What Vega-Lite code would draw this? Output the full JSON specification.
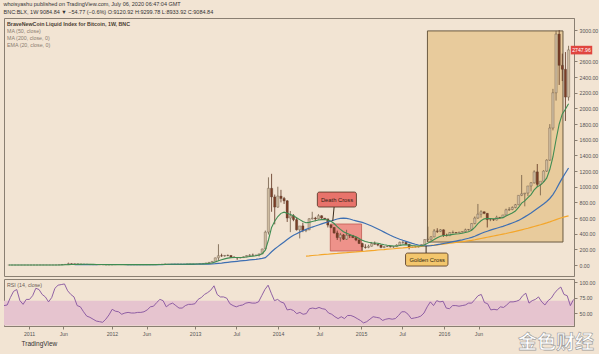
{
 "$schema": "https://vega.github.io/schema/vega-lite/v6.json",
 "background": "#f2e4d3",
 "padding": {"left": 3, "top": 1, "right": 0, "bottom": 0},
 "title": {
  "text": "whoisyashu published on TradingView.com, July 06, 2020 06:47:04 GMT",
  "subtitle": "BNC:BLX, 1W  9084.84 ▼ −54.77 (−0.6%)  O:9120.92  H:9299.78  L:8933.92  C:9084.84",
  "anchor": "start", "frame": "bounds", "font": "Liberation Sans", "subtitleFont": "Liberation Sans",
  "fontSize": 5.5, "subtitleFontSize": 5.5, "fontWeight": "normal", "color": "#333333", "subtitleColor": "#333333",
  "subtitlePadding": 3, "offset": 2
 },
 "spacing": 1,
 "config": {
  "view": {"stroke": "#8a7f72", "strokeWidth": 1},
  "axis": {"labelFont": "Liberation Sans", "labelFontSize": 5.2, "labelColor": "#555555", "domainColor": "#8a7f72", "tickColor": "#8a7f72", "tickSize": 3, "grid": false, "labelPadding": 2},
  "text": {"font": "Liberation Sans"}
 },
 "datasets": {
  "w": [
   {"d":"2010-09-13","o":0.06,"h":0.07,"l":0.06,"c":0.06,"e":0.06,"r":62},
   {"d":"2010-09-27","o":0.06,"h":0.07,"l":0.06,"c":0.06,"e":0.06,"r":63},
   {"d":"2010-10-11","o":0.06,"h":0.11,"l":0.06,"c":0.1,"e":0.07,"r":75},
   {"d":"2010-10-25","o":0.1,"h":0.2,"l":0.1,"c":0.19,"e":0.09,"r":85},
   {"d":"2010-11-08","o":0.19,"h":0.39,"l":0.19,"c":0.28,"e":0.12,"r":88},
   {"d":"2010-11-22","o":0.28,"h":0.3,"l":0.2,"c":0.23,"e":0.14,"r":70},
   {"d":"2010-12-06","o":0.23,"h":0.25,"l":0.19,"c":0.2,"e":0.16,"r":64},
   {"d":"2010-12-20","o":0.2,"h":0.3,"l":0.2,"c":0.3,"e":0.19,"r":72},
   {"d":"2011-01-03","o":0.3,"h":0.34,"l":0.28,"c":0.32,"e":0.21,"r":72},
   {"d":"2011-01-17","o":0.32,"h":0.45,"l":0.32,"c":0.42,"e":0.25,"r":78},
   {"d":"2011-01-31","o":0.42,"h":0.95,"l":0.42,"c":0.9,"e":0.35,"r":90},
   {"d":"2011-02-14","o":0.9,"h":1.1,"l":0.85,"c":0.95,"e":0.44,"r":88},
   {"d":"2011-02-28","o":0.95,"h":0.95,"l":0.86,"c":0.88,"e":0.52,"r":80},
   {"d":"2011-03-14","o":0.88,"h":0.92,"l":0.8,"c":0.86,"e":0.58,"r":76},
   {"d":"2011-03-28","o":0.86,"h":0.86,"l":0.7,"c":0.75,"e":0.62,"r":68},
   {"d":"2011-04-11","o":0.75,"h":1.2,"l":0.7,"c":1.1,"e":0.7,"r":75},
   {"d":"2011-04-25","o":1.1,"h":3.4,"l":1.1,"c":3,"e":1,"r":90},
   {"d":"2011-05-09","o":3,"h":8,"l":3,"c":6.9,"e":1.9,"r":95},
   {"d":"2011-05-23","o":6.9,"h":9.5,"l":6,"c":8.7,"e":3,"r":96},
   {"d":"2011-06-06","o":8.7,"h":31,"l":8.7,"c":18,"e":5,"r":97},
   {"d":"2011-06-20","o":18,"h":20,"l":10,"c":16,"e":6.5,"r":86},
   {"d":"2011-07-04","o":16,"h":16.5,"l":13,"c":14.5,"e":7.6,"m":3.5,"r":80},
   {"d":"2011-07-18","o":14.5,"h":14.8,"l":12.8,"c":13.5,"e":8.5,"m":4.2,"r":76},
   {"d":"2011-08-01","o":13.5,"h":14,"l":7.8,"c":10.5,"e":9,"m":4.9,"r":62},
   {"d":"2011-08-15","o":10.5,"h":12,"l":9.8,"c":11,"e":9.4,"m":5.5,"r":60},
   {"d":"2011-08-29","o":11,"h":11,"l":7.5,"c":8.2,"e":9.3,"m":5.9,"r":52},
   {"d":"2011-09-12","o":8.2,"h":8.3,"l":4.8,"c":5.5,"e":8.7,"m":6.2,"r":45},
   {"d":"2011-09-26","o":5.5,"h":5.6,"l":4.6,"c":5,"e":8.2,"m":6.4,"r":43},
   {"d":"2011-10-10","o":5,"h":5.2,"l":3.8,"c":4,"e":7.5,"m":6.5,"r":40},
   {"d":"2011-10-24","o":4,"h":4.1,"l":2.2,"c":3.2,"e":6.8,"m":6.6,"r":37},
   {"d":"2011-11-07","o":3.2,"h":3.4,"l":2.5,"c":3,"e":6.1,"m":6.6,"r":36},
   {"d":"2011-11-21","o":3,"h":3.2,"l":2,"c":2.5,"e":5.4,"m":6.6,"r":35},
   {"d":"2011-12-05","o":2.5,"h":3.2,"l":2.4,"c":3,"e":5,"m":6.6,"r":40},
   {"d":"2011-12-19","o":3,"h":4.4,"l":3,"c":4,"e":4.8,"m":6.6,"r":47},
   {"d":"2012-01-02","o":4,"h":7.2,"l":4,"c":6.8,"e":5,"m":6.6,"r":56},
   {"d":"2012-01-16","o":6.8,"h":7,"l":5.8,"c":6.3,"e":5.2,"m":6.6,"r":53},
   {"d":"2012-01-30","o":6.3,"h":6.4,"l":5.6,"c":6,"e":5.4,"m":6.7,"r":52},
   {"d":"2012-02-13","o":6,"h":6,"l":4,"c":4.5,"e":5.3,"m":6.6,"r":48},
   {"d":"2012-02-27","o":4.5,"h":5,"l":4.4,"c":4.9,"e":5.2,"m":6.5,"r":50},
   {"d":"2012-03-12","o":4.9,"h":5.4,"l":4.8,"c":5.3,"e":5.2,"m":6.3,"r":51},
   {"d":"2012-03-26","o":5.3,"h":5.3,"l":4.8,"c":4.9,"e":5.1,"m":6,"r":50},
   {"d":"2012-04-09","o":4.9,"h":5,"l":4.8,"c":4.9,"e":5.1,"m":5.6,"r":50},
   {"d":"2012-04-23","o":4.9,"h":5.2,"l":4.9,"c":5.1,"e":5.1,"m":5.3,"r":51},
   {"d":"2012-05-07","o":5.1,"h":5.1,"l":4.9,"c":5,"e":5.1,"m":5.1,"r":51},
   {"d":"2012-05-21","o":5,"h":5.2,"l":5,"c":5.1,"e":5.1,"m":5,"r":52},
   {"d":"2012-06-04","o":5.1,"h":5.8,"l":5.1,"c":5.6,"e":5.2,"m":5.2,"r":55},
   {"d":"2012-06-18","o":5.6,"h":6.7,"l":5.6,"c":6.6,"e":5.5,"m":5.5,"r":60},
   {"d":"2012-07-02","o":6.6,"h":6.8,"l":6.5,"c":6.7,"e":5.8,"m":5.8,"r":61},
   {"d":"2012-07-16","o":6.7,"h":9,"l":6.7,"c":8.9,"e":6.6,"m":6.2,"r":67},
   {"d":"2012-07-30","o":8.9,"h":11,"l":8.9,"c":10.9,"e":7.6,"m":6.5,"r":72},
   {"d":"2012-08-13","o":10.9,"h":15.4,"l":7.5,"c":11.7,"e":8.7,"m":6.8,"r":70},
   {"d":"2012-08-27","o":11.7,"h":11.8,"l":9.8,"c":10.2,"e":9.2,"m":7.1,"r":60},
   {"d":"2012-09-10","o":10.2,"h":11.6,"l":10.2,"c":11.5,"e":9.8,"m":7.5,"r":64},
   {"d":"2012-09-24","o":11.5,"h":12.8,"l":11.5,"c":12.4,"e":10.5,"m":7.9,"r":66},
   {"d":"2012-10-08","o":12.4,"h":12.5,"l":11.6,"c":11.8,"e":10.8,"m":8.2,"r":62},
   {"d":"2012-10-22","o":11.8,"h":11.9,"l":10.5,"c":10.8,"e":10.9,"m":8.5,"r":58},
   {"d":"2012-11-05","o":10.8,"h":11,"l":10.6,"c":10.9,"e":10.9,"m":8.8,"r":58},
   {"d":"2012-11-19","o":10.9,"h":12.5,"l":10.9,"c":12.4,"e":11.3,"m":9.1,"r":62},
   {"d":"2012-12-03","o":12.4,"h":13.5,"l":12.4,"c":13.3,"e":11.8,"m":9.4,"r":64},
   {"d":"2012-12-17","o":13.3,"h":13.5,"l":13.1,"c":13.4,"e":12.2,"m":9.7,"r":64},
   {"d":"2012-12-31","o":13.4,"h":13.7,"l":13.2,"c":13.5,"e":12.6,"m":10,"r":65},
   {"d":"2013-01-14","o":13.5,"h":17.8,"l":13.5,"c":17.5,"e":13.6,"m":10.4,"r":72},
   {"d":"2013-01-28","o":17.5,"h":21,"l":17.5,"c":20.6,"e":15.2,"m":11,"r":75},
   {"d":"2013-02-11","o":20.6,"h":27,"l":20.6,"c":26.8,"e":17.8,"m":11.8,"r":80},
   {"d":"2013-02-25","o":26.8,"h":35,"l":26,"c":34.5,"e":21.5,"m":12.8,"r":83},
   {"d":"2013-03-11","o":34.5,"h":47.5,"l":34,"c":46.9,"e":27,"m":14.3,"r":87},
   {"d":"2013-03-25","o":46.9,"h":95,"l":46,"c":92,"e":39,"m":17,"r":94},
   {"d":"2013-04-08","o":92,"h":266,"l":55,"c":119,"e":55,"m":21,"r":80},
   {"d":"2013-04-22","o":119,"h":145,"l":105,"c":115,"e":68,"m":25,"r":76},
   {"d":"2013-05-06","o":115,"h":128,"l":106,"c":123,"e":79,"m":30,"r":76},
   {"d":"2013-05-20","o":123,"h":134,"l":113,"c":122,"e":88,"m":35,"r":74},
   {"d":"2013-06-03","o":122,"h":125,"l":94,"c":100,"e":95,"m":40,"r":65},
   {"d":"2013-06-17","o":100,"h":113,"l":90,"c":95,"e":97,"m":44,"r":62},
   {"d":"2013-07-01","o":95,"h":98,"l":66,"c":91,"e":97,"m":48,"r":60},
   {"d":"2013-07-15","o":91,"h":100,"l":85,"c":95,"e":97,"m":52,"r":62},
   {"d":"2013-07-29","o":95,"h":110,"l":92,"c":106,"e":99,"m":56,"r":63},
   {"d":"2013-08-12","o":106,"h":125,"l":100,"c":122,"e":103,"m":60,"r":66},
   {"d":"2013-08-26","o":122,"h":140,"l":118,"c":127,"e":109,"m":65,"r":67},
   {"d":"2013-09-09","o":127,"h":146,"l":120,"c":125,"e":114,"m":69,"r":66},
   {"d":"2013-09-23","o":125,"h":131,"l":118,"c":126,"e":118,"m":73,"r":66},
   {"d":"2013-10-07","o":126,"h":146,"l":110,"c":142,"e":128,"m":78,"r":68},
   {"d":"2013-10-21","o":142,"h":210,"l":140,"c":205,"e":145,"m":85,"r":78},
   {"d":"2013-11-04","o":205,"h":440,"l":200,"c":420,"e":190,"m":95,"r":88},
   {"d":"2013-11-18","o":420,"h":1120,"l":390,"c":980,"e":320,"m":130,"r":95},
   {"d":"2013-12-02","o":980,"h":1165,"l":680,"c":870,"e":480,"m":170,"r":82},
   {"d":"2013-12-16","o":870,"h":900,"l":520,"c":740,"e":560,"m":205,"r":70},
   {"d":"2013-12-30","o":740,"h":1000,"l":730,"c":880,"e":620,"m":235,"r":72},
   {"d":"2014-01-13","o":880,"h":960,"l":800,"c":850,"e":660,"m":265,"r":68},
   {"d":"2014-01-27","o":850,"h":870,"l":780,"c":820,"e":675,"m":295,"r":66},
   {"d":"2014-02-10","o":820,"h":830,"l":550,"c":600,"e":660,"m":325,"r":55},
   {"d":"2014-02-24","o":600,"h":690,"l":420,"c":630,"e":645,"m":355,"r":56},
   {"d":"2014-03-10","o":630,"h":650,"l":560,"c":580,"e":630,"m":380,"r":54},
   {"d":"2014-03-24","o":580,"h":600,"l":440,"c":450,"e":605,"m":400,"r":49},
   {"d":"2014-04-07","o":450,"h":490,"l":340,"c":500,"e":580,"m":420,"r":51},
   {"d":"2014-04-21","o":500,"h":540,"l":420,"c":440,"e":555,"m":438,"r":48},
   {"d":"2014-05-05","o":440,"h":460,"l":420,"c":450,"e":540,"m":455,"s":115,"r":49},
   {"d":"2014-05-19","o":450,"h":600,"l":445,"c":590,"e":545,"m":470,"s":118,"r":57},
   {"d":"2014-06-02","o":590,"h":680,"l":580,"c":600,"e":555,"m":485,"s":122,"r":58},
   {"d":"2014-06-16","o":600,"h":615,"l":560,"c":590,"e":565,"m":498,"s":125,"r":57},
   {"d":"2014-06-30","o":590,"h":650,"l":580,"c":630,"e":575,"m":512,"s":128,"r":59},
   {"d":"2014-07-14","o":630,"h":635,"l":590,"c":600,"e":580,"m":525,"s":132,"r":57},
   {"d":"2014-07-28","o":600,"h":600,"l":575,"c":590,"e":582,"m":538,"s":135,"r":56},
   {"d":"2014-08-11","o":590,"h":590,"l":480,"c":510,"e":575,"m":550,"s":138,"r":50},
   {"d":"2014-08-25","o":510,"h":520,"l":470,"c":480,"e":560,"m":562,"s":142,"r":48},
   {"d":"2014-09-08","o":480,"h":485,"l":400,"c":410,"e":530,"m":575,"s":145,"r":44},
   {"d":"2014-09-22","o":410,"h":440,"l":320,"c":350,"e":490,"m":588,"s":148,"r":41},
   {"d":"2014-10-06","o":350,"h":410,"l":300,"c":385,"e":455,"m":597,"s":152,"r":44},
   {"d":"2014-10-20","o":385,"h":395,"l":320,"c":330,"e":425,"m":600,"s":155,"r":41},
   {"d":"2014-11-03","o":330,"h":450,"l":320,"c":380,"e":405,"m":597,"s":158,"r":46},
   {"d":"2014-11-17","o":380,"h":390,"l":345,"c":375,"e":390,"m":588,"s":162,"r":46},
   {"d":"2014-12-01","o":375,"h":385,"l":345,"c":350,"e":375,"m":575,"s":165,"r":44},
   {"d":"2014-12-15","o":350,"h":355,"l":305,"c":320,"e":360,"m":565,"s":168,"r":41},
   {"d":"2014-12-29","o":320,"h":330,"l":270,"c":275,"e":340,"m":555,"s":172,"r":38},
   {"d":"2015-01-12","o":275,"h":285,"l":170,"c":230,"e":315,"m":545,"s":175,"r":34},
   {"d":"2015-01-26","o":230,"h":265,"l":210,"c":225,"e":300,"m":530,"s":178,"r":36},
   {"d":"2015-02-09","o":225,"h":260,"l":215,"c":240,"e":290,"m":515,"s":182,"r":40},
   {"d":"2015-02-23","o":240,"h":295,"l":235,"c":275,"e":285,"m":498,"s":185,"r":44},
   {"d":"2015-03-09","o":275,"h":300,"l":260,"c":265,"e":282,"m":480,"s":188,"r":43},
   {"d":"2015-03-23","o":265,"h":270,"l":240,"c":255,"e":278,"m":460,"s":192,"r":42},
   {"d":"2015-04-06","o":255,"h":260,"l":215,"c":225,"e":268,"m":440,"s":195,"r":38},
   {"d":"2015-04-20","o":225,"h":240,"l":215,"c":235,"e":260,"m":420,"s":198,"r":40},
   {"d":"2015-05-04","o":235,"h":245,"l":230,"c":237,"e":253,"m":400,"s":202,"r":41},
   {"d":"2015-05-18","o":237,"h":242,"l":225,"c":230,"e":248,"m":380,"s":205,"r":40},
   {"d":"2015-06-01","o":230,"h":240,"l":220,"c":235,"e":244,"m":362,"s":208,"r":41},
   {"d":"2015-06-15","o":235,"h":265,"l":232,"c":255,"e":244,"m":345,"s":212,"r":46},
   {"d":"2015-06-29","o":255,"h":300,"l":250,"c":290,"e":250,"m":330,"s":215,"r":52},
   {"d":"2015-07-13","o":290,"h":315,"l":270,"c":290,"e":258,"m":316,"s":218,"r":52},
   {"d":"2015-07-27","o":290,"h":298,"l":255,"c":265,"e":260,"m":303,"s":222,"r":48},
   {"d":"2015-08-10","o":265,"h":270,"l":200,"c":225,"e":255,"m":290,"s":225,"r":41},
   {"d":"2015-08-24","o":225,"h":235,"l":220,"c":230,"e":250,"m":277,"s":228,"r":42},
   {"d":"2015-09-07","o":230,"h":245,"l":225,"c":230,"e":246,"m":266,"s":232,"r":43},
   {"d":"2015-09-21","o":230,"h":240,"l":225,"c":238,"e":244,"m":256,"s":235,"r":45},
   {"d":"2015-10-05","o":238,"h":265,"l":236,"c":262,"e":246,"m":248,"s":238,"r":50},
   {"d":"2015-10-19","o":262,"h":330,"l":260,"c":325,"e":258,"m":244,"s":242,"r":60},
   {"d":"2015-11-02","o":325,"h":490,"l":310,"c":330,"e":280,"m":245,"s":246,"r":68},
   {"d":"2015-11-16","o":330,"h":370,"l":310,"c":360,"e":300,"m":248,"s":250,"r":62},
   {"d":"2015-11-30","o":360,"h":460,"l":355,"c":435,"e":325,"m":253,"s":254,"r":70},
   {"d":"2015-12-14","o":435,"h":470,"l":410,"c":430,"e":348,"m":260,"s":258,"r":68},
   {"d":"2015-12-28","o":430,"h":460,"l":420,"c":450,"e":368,"m":267,"s":263,"r":69},
   {"d":"2016-01-11","o":450,"h":455,"l":360,"c":380,"e":378,"m":275,"s":268,"r":58},
   {"d":"2016-01-25","o":380,"h":400,"l":365,"c":375,"e":380,"m":282,"s":273,"r":57},
   {"d":"2016-02-08","o":375,"h":420,"l":370,"c":415,"e":385,"m":290,"s":278,"r":62},
   {"d":"2016-02-22","o":415,"h":440,"l":405,"c":415,"e":392,"m":298,"s":283,"r":62},
   {"d":"2016-03-07","o":415,"h":420,"l":405,"c":410,"e":396,"m":306,"s":288,"r":61},
   {"d":"2016-03-21","o":410,"h":425,"l":405,"c":420,"e":400,"m":314,"s":293,"r":62},
   {"d":"2016-04-04","o":420,"h":430,"l":415,"c":428,"e":405,"m":322,"s":298,"r":63},
   {"d":"2016-04-18","o":428,"h":465,"l":425,"c":450,"e":415,"m":332,"s":304,"r":66},
   {"d":"2016-05-02","o":450,"h":460,"l":440,"c":455,"e":425,"m":342,"s":310,"r":66},
   {"d":"2016-05-16","o":455,"h":535,"l":440,"c":530,"e":445,"m":354,"s":316,"r":72},
   {"d":"2016-05-30","o":530,"h":620,"l":520,"c":600,"e":480,"m":368,"s":323,"r":78},
   {"d":"2016-06-13","o":600,"h":780,"l":590,"c":650,"e":530,"m":385,"s":331,"r":80},
   {"d":"2016-06-27","o":650,"h":700,"l":605,"c":680,"e":565,"m":402,"s":339,"r":67},
   {"d":"2016-07-11","o":680,"h":685,"l":650,"c":660,"e":590,"m":418,"s":347,"r":65},
   {"d":"2016-07-25","o":660,"h":665,"l":480,"c":580,"e":595,"m":432,"s":355,"r":55},
   {"d":"2016-08-08","o":580,"h":600,"l":560,"c":580,"e":595,"m":445,"s":363,"r":56},
   {"d":"2016-08-22","o":580,"h":590,"l":565,"c":575,"e":592,"m":458,"s":371,"r":55},
   {"d":"2016-09-05","o":575,"h":630,"l":570,"c":610,"e":595,"m":470,"s":379,"r":60},
   {"d":"2016-09-19","o":610,"h":612,"l":595,"c":605,"e":598,"m":482,"s":387,"r":59},
   {"d":"2016-10-03","o":605,"h":640,"l":600,"c":640,"e":605,"m":494,"s":395,"r":63},
   {"d":"2016-10-17","o":640,"h":720,"l":630,"c":705,"e":625,"m":508,"s":403,"r":68},
   {"d":"2016-10-31","o":705,"h":740,"l":690,"c":710,"e":645,"m":522,"s":412,"r":68},
   {"d":"2016-11-14","o":710,"h":750,"l":700,"c":735,"e":665,"m":537,"s":421,"r":69},
   {"d":"2016-11-28","o":735,"h":780,"l":725,"c":770,"e":690,"m":552,"s":430,"r":71},
   {"d":"2016-12-12","o":770,"h":890,"l":765,"c":890,"e":735,"m":570,"s":440,"r":78},
   {"d":"2016-12-26","o":890,"h":1150,"l":880,"c":910,"e":790,"m":592,"s":450,"r":82},
   {"d":"2017-01-09","o":910,"h":920,"l":750,"c":920,"e":820,"m":615,"s":460,"r":66},
   {"d":"2017-01-23","o":920,"h":1010,"l":880,"c":1010,"e":860,"m":640,"s":470,"r":70},
   {"d":"2017-02-06","o":1010,"h":1060,"l":940,"c":1050,"e":900,"m":665,"s":481,"r":72},
   {"d":"2017-02-20","o":1050,"h":1210,"l":1040,"c":1190,"e":960,"m":693,"s":492,"r":76},
   {"d":"2017-03-06","o":1190,"h":1290,"l":1000,"c":1030,"e":1000,"m":722,"s":503,"r":68},
   {"d":"2017-03-20","o":1030,"h":1060,"l":890,"c":1070,"e":1020,"m":750,"s":514,"r":63},
   {"d":"2017-04-03","o":1070,"h":1210,"l":1060,"c":1200,"e":1060,"m":780,"s":526,"r":70},
   {"d":"2017-04-17","o":1200,"h":1350,"l":1190,"c":1340,"e":1110,"m":812,"s":538,"r":74},
   {"d":"2017-05-01","o":1340,"h":1800,"l":1330,"c":1750,"e":1220,"m":850,"s":551,"r":82},
   {"d":"2017-05-15","o":1750,"h":2250,"l":1720,"c":2200,"e":1380,"m":900,"s":565,"r":88},
   {"d":"2017-05-29","o":2200,"h":2990,"l":2100,"c":2950,"e":1600,"m":965,"s":580,"r":92},
   {"d":"2017-06-12","o":2950,"h":3000,"l":2300,"c":2550,"e":1800,"m":1040,"s":595,"r":80},
   {"d":"2017-06-26","o":2550,"h":2700,"l":2350,"c":2500,"e":1930,"m":1110,"s":607,"r":78},
   {"d":"2017-07-10","o":2500,"h":2720,"l":1840,"c":2145,"e":1990,"m":1175,"s":618,"r":62},
   {"d":"2017-07-24","o":2145,"h":2800,"l":2100,"c":2748,"e":2060,"m":1240,"s":628,"r":72}
  ]
 },
 "vconcat": [
  {
   "width": 570, "height": 258,
   "title": {"text": "BraveNewCoin Liquid Index for Bitcoin, 1W, BNC", "subtitle": ["MA (50, close)", "MA (200, close, 0)", "EMA (20, close, 0)"], "anchor": "start", "dx": 3, "offset": -30, "font": "Liberation Sans", "subtitleFont": "Liberation Sans", "fontSize": 5.3, "fontWeight": "bold", "color": "#4a3c32", "subtitleFontSize": 5.3, "subtitleColor": "#8a7c70", "subtitleLineHeight": 7, "subtitlePadding": 1.5},
   "layer": [
    {
     "data": {"values": [{"x0": "2015-10-31", "x1": "2017-06-29", "y0": 294, "y1": 2990}]},
     "mark": {"type": "rect", "fill": "#e8cb9c", "stroke": "#6b5a40", "strokeWidth": 1},
     "encoding": {
      "x": {"field": "x0", "type": "temporal", "scale": {"type": "utc", "domain": [{"year": 2010, "month": 9, "date": 13, "utc": true}, {"year": 2017, "month": 7, "date": 26, "utc": true}]}, "axis": null},
      "x2": {"field": "x1"},
      "y": {"field": "y0", "type": "quantitative", "scale": {"domain": [-140, 3155], "nice": false, "zero": false}, "axis": {"orient": "right", "title": null, "values": [0,200,400,600,800,1000,1200,1400,1600,1800,2000,2200,2400,2600,3000], "format": ".2f"}},
      "y2": {"field": "y1"}
     }
    },
    {
     "data": {"values": [{"x0": "2014-08-22", "x1": "2015-01-09", "y0": 179, "y1": 524}]},
     "mark": {"type": "rect", "fill": "#ee928a", "stroke": "#c25a52", "strokeWidth": 0.8},
     "encoding": {
      "x": {"field": "x0", "type": "temporal", "scale": {"type": "utc", "domain": [{"year": 2010, "month": 9, "date": 13, "utc": true}, {"year": 2017, "month": 7, "date": 26, "utc": true}]}, "axis": null},
      "x2": {"field": "x1"},
      "y": {"field": "y0", "type": "quantitative", "scale": {"domain": [-140, 3155], "nice": false, "zero": false}, "axis": {"orient": "right", "title": null, "values": [0,200,400,600,800,1000,1200,1400,1600,1800,2000,2200,2400,2600,3000], "format": ".2f"}},
      "y2": {"field": "y1"}
     }
    },
    {
     "data": {"name": "w"},
     "mark": {"type": "rule", "clip": true, "strokeWidth": 0.8},
     "encoding": {
      "x": {"field": "d", "type": "temporal", "scale": {"type": "utc", "domain": [{"year": 2010, "month": 9, "date": 13, "utc": true}, {"year": 2017, "month": 7, "date": 26, "utc": true}]}, "axis": null},
      "y": {"field": "l", "type": "quantitative", "scale": {"domain": [-140, 3155], "nice": false, "zero": false}, "axis": {"orient": "right", "title": null, "values": [0,200,400,600,800,1000,1200,1400,1600,1800,2000,2200,2400,2600,3000], "format": ".2f"}},
      "y2": {"field": "h"},
      "color": {"condition": {"test": "datum.c >= datum.o", "value": "#6f5a44"}, "value": "#5a2e1c"}
     }
    },
    {
     "data": {"name": "w"},
     "mark": {"type": "bar", "clip": true, "size": 2.3, "stroke": "#4e3a2c", "strokeWidth": 0.3},
     "encoding": {
      "x": {"field": "d", "type": "temporal", "scale": {"type": "utc", "domain": [{"year": 2010, "month": 9, "date": 13, "utc": true}, {"year": 2017, "month": 7, "date": 26, "utc": true}]}, "axis": null},
      "y": {"field": "o", "type": "quantitative", "scale": {"domain": [-140, 3155], "nice": false, "zero": false}, "axis": {"orient": "right", "title": null, "values": [0,200,400,600,800,1000,1200,1400,1600,1800,2000,2200,2400,2600,3000], "format": ".2f"}},
      "y2": {"field": "c"},
      "fill": {"condition": {"test": "datum.c >= datum.o", "value": "#cdbb9f"}, "value": "#7a3e26"}
     }
    },
    {
     "data": {"name": "w"},
     "mark": {"type": "line", "clip": true, "color": "#f4a62a", "strokeWidth": 1.2},
     "encoding": {
      "x": {"field": "d", "type": "temporal", "scale": {"type": "utc", "domain": [{"year": 2010, "month": 9, "date": 13, "utc": true}, {"year": 2017, "month": 7, "date": 26, "utc": true}]}, "axis": null},
      "y": {"field": "s", "type": "quantitative", "scale": {"domain": [-140, 3155], "nice": false, "zero": false}, "axis": {"orient": "right", "title": null, "values": [0,200,400,600,800,1000,1200,1400,1600,1800,2000,2200,2400,2600,3000], "format": ".2f"}}
     }
    },
    {
     "data": {"name": "w"},
     "mark": {"type": "line", "clip": true, "color": "#3e6fb2", "strokeWidth": 1.2},
     "encoding": {
      "x": {"field": "d", "type": "temporal", "scale": {"type": "utc", "domain": [{"year": 2010, "month": 9, "date": 13, "utc": true}, {"year": 2017, "month": 7, "date": 26, "utc": true}]}, "axis": null},
      "y": {"field": "m", "type": "quantitative", "scale": {"domain": [-140, 3155], "nice": false, "zero": false}, "axis": {"orient": "right", "title": null, "values": [0,200,400,600,800,1000,1200,1400,1600,1800,2000,2200,2400,2600,3000], "format": ".2f"}}
     }
    },
    {
     "data": {"name": "w"},
     "mark": {"type": "line", "clip": true, "color": "#3f8c52", "strokeWidth": 1.1},
     "encoding": {
      "x": {"field": "d", "type": "temporal", "scale": {"type": "utc", "domain": [{"year": 2010, "month": 9, "date": 13, "utc": true}, {"year": 2017, "month": 7, "date": 26, "utc": true}]}, "axis": null},
      "y": {"field": "e", "type": "quantitative", "scale": {"domain": [-140, 3155], "nice": false, "zero": false}, "axis": {"orient": "right", "title": null, "values": [0,200,400,600,800,1000,1200,1400,1600,1800,2000,2200,2400,2600,3000], "format": ".2f"}}
     }
    },
    {
     "data": {"values": [{"x0": "2014-09-08", "y0": 741, "x1": "2014-09-02", "y1": 562}, {"x0": "2015-10-25", "y0": 153, "x1": "2015-10-25", "y1": 243}]},
     "mark": {"type": "rule", "color": "#3a2a1a", "strokeWidth": 1},
     "encoding": {
      "x": {"field": "x0", "type": "temporal", "scale": {"type": "utc", "domain": [{"year": 2010, "month": 9, "date": 13, "utc": true}, {"year": 2017, "month": 7, "date": 26, "utc": true}]}, "axis": null},
      "x2": {"field": "x1"},
      "y": {"field": "y0", "type": "quantitative", "scale": {"domain": [-140, 3155], "nice": false, "zero": false}, "axis": {"orient": "right", "title": null, "values": [0,200,400,600,800,1000,1200,1400,1600,1800,2000,2200,2400,2600,3000], "format": ".2f"}},
      "y2": {"field": "y1"}
     }
    },
    {
     "data": {"values": [
      {"x0": "2014-06-25", "x1": "2014-12-17", "y0": 741, "y1": 932, "f": "Death"},
      {"x0": "2015-07-25", "x1": "2016-01-31", "y0": -13, "y1": 153, "f": "Golden"}
     ]},
     "mark": {"type": "rect", "cornerRadius": 2, "strokeWidth": 0.8, "stroke": "#4a3020"},
     "encoding": {
      "x": {"field": "x0", "type": "temporal", "scale": {"type": "utc", "domain": [{"year": 2010, "month": 9, "date": 13, "utc": true}, {"year": 2017, "month": 7, "date": 26, "utc": true}]}, "axis": null},
      "x2": {"field": "x1"},
      "y": {"field": "y0", "type": "quantitative", "scale": {"domain": [-140, 3155], "nice": false, "zero": false}, "axis": {"orient": "right", "title": null, "values": [0,200,400,600,800,1000,1200,1400,1600,1800,2000,2200,2400,2600,3000], "format": ".2f"}},
      "y2": {"field": "y1"},
      "fill": {"condition": {"test": "datum.f == 'Death'", "value": "#e8736b"}, "value": "#f3c66c"}
     }
    },
    {
     "data": {"values": [
      {"x": "2014-09-21", "y": 836, "t": "Death Cross"},
      {"x": "2015-10-30", "y": 70, "t": "Golden Cross"}
     ]},
     "mark": {"type": "text", "fontSize": 5.8, "color": "#2e1e12", "baseline": "middle", "align": "center"},
     "encoding": {
      "x": {"field": "x", "type": "temporal", "scale": {"type": "utc", "domain": [{"year": 2010, "month": 9, "date": 13, "utc": true}, {"year": 2017, "month": 7, "date": 26, "utc": true}]}, "axis": null},
      "y": {"field": "y", "type": "quantitative", "scale": {"domain": [-140, 3155], "nice": false, "zero": false}, "axis": {"orient": "right", "title": null, "values": [0,200,400,600,800,1000,1200,1400,1600,1800,2000,2200,2400,2600,3000], "format": ".2f"}},
      "text": {"field": "t"}
     }
    },
    {
     "data": {"values": [{"x0": "2017-08-03", "x1": "2017-11-07", "y0": 2690, "y1": 2800}]},
     "mark": {"type": "rect", "fill": "#e0453f", "clip": false},
     "encoding": {
      "x": {"field": "x0", "type": "temporal", "scale": {"type": "utc", "domain": [{"year": 2010, "month": 9, "date": 13, "utc": true}, {"year": 2017, "month": 7, "date": 26, "utc": true}]}, "axis": null},
      "x2": {"field": "x1"},
      "y": {"field": "y0", "type": "quantitative", "scale": {"domain": [-140, 3155], "nice": false, "zero": false}, "axis": {"orient": "right", "title": null, "values": [0,200,400,600,800,1000,1200,1400,1600,1800,2000,2200,2400,2600,3000], "format": ".2f"}},
      "y2": {"field": "y1"}
     }
    },
    {
     "data": {"values": [{"x": "2017-09-20", "y": 2745, "t": "2747.96"}]},
     "mark": {"type": "text", "fontSize": 5.2, "color": "#ffffff", "baseline": "middle", "align": "center", "clip": false},
     "encoding": {
      "x": {"field": "x", "type": "temporal", "scale": {"type": "utc", "domain": [{"year": 2010, "month": 9, "date": 13, "utc": true}, {"year": 2017, "month": 7, "date": 26, "utc": true}]}, "axis": null},
      "y": {"field": "y", "type": "quantitative", "scale": {"domain": [-140, 3155], "nice": false, "zero": false}, "axis": {"orient": "right", "title": null, "values": [0,200,400,600,800,1000,1200,1400,1600,1800,2000,2200,2400,2600,3000], "format": ".2f"}},
      "text": {"field": "t"}
     }
    }
   ]
  },
  {
   "width": 570, "height": 47,
   "title": {"text": "RSI (14, close)", "anchor": "start", "dx": 3, "offset": -9, "font": "Liberation Sans", "fontSize": 5.3, "fontWeight": "normal", "color": "#6a5c55"},
   "layer": [
    {
     "data": {"values": [{"x0": "2010-09-01", "x1": "2017-08-10", "a": 30, "b": 70}]},
     "mark": {"type": "rect", "fill": "#e6c4cf", "clip": true},
     "encoding": {
      "x": {"field": "x0", "type": "temporal", "scale": {"type": "utc", "domain": [{"year": 2010, "month": 9, "date": 13, "utc": true}, {"year": 2017, "month": 7, "date": 26, "utc": true}]},
       "axis": {"title": "TradingView", "titleAnchor": "start", "titleAlign": "left", "titleX": 17, "titleFont": "Liberation Sans", "titleFontSize": 6.5, "titleFontWeight": "normal", "titleColor": "#333333", "titlePadding": 4,
        "values": [{"year": 2011, "month": 1, "date": 1, "utc": true}, {"year": 2011, "month": 6, "date": 1, "utc": true}, {"year": 2012, "month": 1, "date": 1, "utc": true}, {"year": 2012, "month": 6, "date": 1, "utc": true}, {"year": 2013, "month": 1, "date": 1, "utc": true}, {"year": 2013, "month": 7, "date": 1, "utc": true}, {"year": 2014, "month": 1, "date": 1, "utc": true}, {"year": 2014, "month": 7, "date": 1, "utc": true}, {"year": 2015, "month": 1, "date": 1, "utc": true}, {"year": 2015, "month": 7, "date": 1, "utc": true}, {"year": 2016, "month": 1, "date": 1, "utc": true}, {"year": 2016, "month": 6, "date": 1, "utc": true}],
        "labelExpr": "utcFormat(datum.value, '%m') == '01' ? utcFormat(datum.value, '%Y') : utcFormat(datum.value, '%b')"}},
      "x2": {"field": "x1"},
      "y": {"field": "a", "type": "quantitative", "scale": {"domain": [29, 105], "nice": false, "zero": false}, "axis": {"orient": "right", "title": null, "values": [50, 75, 100], "format": ".2f"}},
      "y2": {"field": "b"}
     }
    },
    {
     "data": {"name": "w"},
     "mark": {"type": "line", "clip": true, "color": "#84529e", "strokeWidth": 0.9},
     "encoding": {
      "x": {"field": "d", "type": "temporal", "scale": {"type": "utc", "domain": [{"year": 2010, "month": 9, "date": 13, "utc": true}, {"year": 2017, "month": 7, "date": 26, "utc": true}]},
       "axis": {"title": "TradingView", "titleAnchor": "start", "titleAlign": "left", "titleX": 17, "titleFont": "Liberation Sans", "titleFontSize": 6.5, "titleFontWeight": "normal", "titleColor": "#333333", "titlePadding": 4,
        "values": [{"year": 2011, "month": 1, "date": 1, "utc": true}, {"year": 2011, "month": 6, "date": 1, "utc": true}, {"year": 2012, "month": 1, "date": 1, "utc": true}, {"year": 2012, "month": 6, "date": 1, "utc": true}, {"year": 2013, "month": 1, "date": 1, "utc": true}, {"year": 2013, "month": 7, "date": 1, "utc": true}, {"year": 2014, "month": 1, "date": 1, "utc": true}, {"year": 2014, "month": 7, "date": 1, "utc": true}, {"year": 2015, "month": 1, "date": 1, "utc": true}, {"year": 2015, "month": 7, "date": 1, "utc": true}, {"year": 2016, "month": 1, "date": 1, "utc": true}, {"year": 2016, "month": 6, "date": 1, "utc": true}],
        "labelExpr": "utcFormat(datum.value, '%m') == '01' ? utcFormat(datum.value, '%Y') : utcFormat(datum.value, '%b')"}},
      "y": {"field": "r", "type": "quantitative", "scale": {"domain": [29, 105], "nice": false, "zero": false}, "axis": {"orient": "right", "title": null, "values": [50, 75, 100], "format": ".2f"}}
     }
    },
    {
     "data": {"values": [{"x": "2017-05-08", "y": 2, "t": "金色财经"}]},
     "mark": {"type": "text", "font": "Noto Sans CJK SC", "fontSize": 19, "fontWeight": "bold", "color": "#ffffff", "stroke": "#9a9a9a", "strokeWidth": 0.6, "baseline": "middle", "align": "center", "clip": false},
     "encoding": {
      "x": {"field": "x", "type": "temporal", "scale": {"type": "utc", "domain": [{"year": 2010, "month": 9, "date": 13, "utc": true}, {"year": 2017, "month": 7, "date": 26, "utc": true}]},
       "axis": {"title": "TradingView", "titleAnchor": "start", "titleAlign": "left", "titleX": 17, "titleFont": "Liberation Sans", "titleFontSize": 6.5, "titleFontWeight": "normal", "titleColor": "#333333", "titlePadding": 4,
        "values": [{"year": 2011, "month": 1, "date": 1, "utc": true}, {"year": 2011, "month": 6, "date": 1, "utc": true}, {"year": 2012, "month": 1, "date": 1, "utc": true}, {"year": 2012, "month": 6, "date": 1, "utc": true}, {"year": 2013, "month": 1, "date": 1, "utc": true}, {"year": 2013, "month": 7, "date": 1, "utc": true}, {"year": 2014, "month": 1, "date": 1, "utc": true}, {"year": 2014, "month": 7, "date": 1, "utc": true}, {"year": 2015, "month": 1, "date": 1, "utc": true}, {"year": 2015, "month": 7, "date": 1, "utc": true}, {"year": 2016, "month": 1, "date": 1, "utc": true}, {"year": 2016, "month": 6, "date": 1, "utc": true}],
        "labelExpr": "utcFormat(datum.value, '%m') == '01' ? utcFormat(datum.value, '%Y') : utcFormat(datum.value, '%b')"}},
      "y": {"field": "y", "type": "quantitative", "scale": {"domain": [29, 105], "nice": false, "zero": false}, "axis": {"orient": "right", "title": null, "values": [50, 75, 100], "format": ".2f"}},
      "text": {"field": "t"}
     }
    }
   ]
  }
 ]
}
